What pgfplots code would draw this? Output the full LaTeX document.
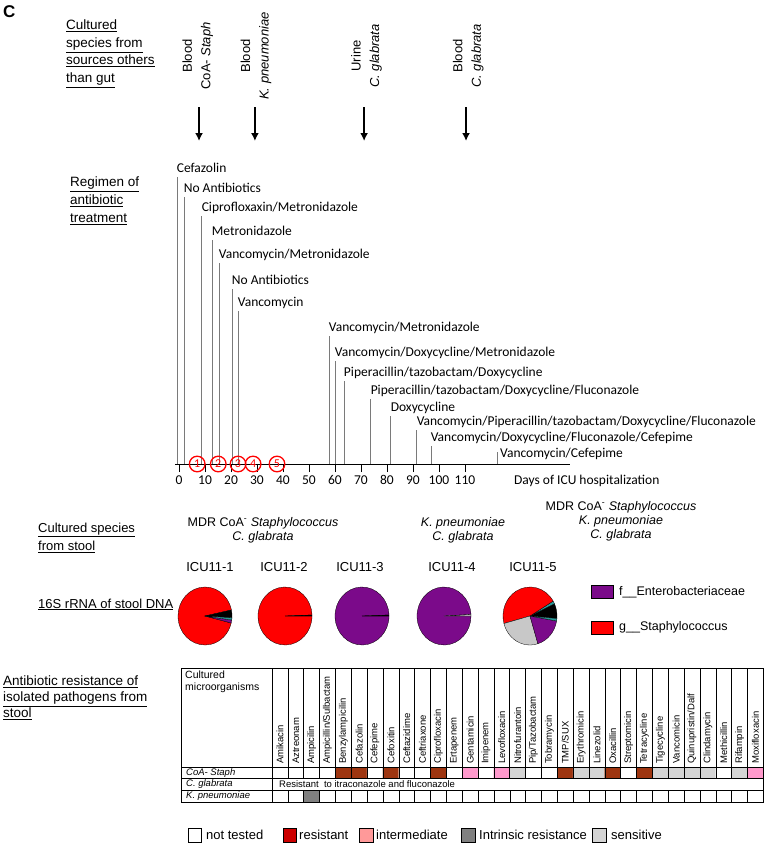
\documentclass[border=0pt]{standalone}
\usepackage{pgfplots}
\pgfplotsset{compat=1.18}
\usepackage{pgfplotstable}
\usepackage{fontspec}
\setmainfont{Liberation Sans}
\newfontfamily\calibri{Carlito}
\usetikzlibrary{arrows.meta}
\definecolor{resbrown}{HTML}{9E3510}
\definecolor{respink}{HTML}{FF99CC}
\definecolor{intgray}{HTML}{808080}
\definecolor{sensgray}{HTML}{D4D4D4}
\definecolor{legred}{HTML}{CC0000}
\definecolor{legpink}{HTML}{FF9999}
\definecolor{piepurple}{HTML}{7B0A8A}
\definecolor{pieteal}{HTML}{2A9A9A}
\definecolor{piegray}{HTML}{C8C8C8}
\definecolor{regline}{HTML}{7A7A7A}
\newcommand\fs[2]{\fontsize{#1}{#2}\selectfont}
\newcommand{\piesec}[3]{\fill[#3,draw=black,line width=0.3pt] (0pt,0pt) -- (#1:27pt and 29pt) arc[start angle=#1, end angle=#2, x radius=27pt, y radius=29pt] -- cycle;}

\pgfplotstableread{
day top label
-0.8 287 Cefazolin
1.9 267 {No Antibiotics}
8.8 248 Ciprofloxaxin/Metronidazole
12.7 224 Metronidazole
15.4 201 Vancomycin/Metronidazole
20.4 175 {No Antibiotics}
22.7 153 Vancomycin
57.7 128 Vancomycin/Metronidazole
60.0 103 Vancomycin/Doxycycline/Metronidazole
63.5 83 Piperacillin/tazobactam/Doxycycline
73.8 65 Piperacillin/tazobactam/Doxycycline/Fluconazole
81.5 48 Doxycycline
91.5 34 Vancomycin/Piperacillin/tazobactam/Doxycycline/Fluconazole
96.9 18 Vancomycin/Doxycycline/Fluconazole/Cefepime
}\regimen

\begin{document}
\begin{tikzpicture}
\begin{scope}[x=1pt,y=-1pt]
\path[use as bounding box] (0,0) rectangle (770,848);
% panel letter
\node[anchor=north west, inner sep=0pt, font=\bfseries\fs{17}{17}] at (3,5) {C};
% left labels (base = baseline of last line)
\node[anchor=base west, inner sep=0pt, align=left, font=\fs{13.5}{17.5}] at (66,82.5)
  {\underline{Cultured}\\\underline{species from}\\\underline{sources others}\\\underline{than gut}};
\node[anchor=base west, inner sep=0pt, align=left, font=\fs{13.5}{18}] at (70,222.5)
  {\underline{Regimen of}\\\underline{antibiotic}\\\underline{treatment}};
\node[anchor=base west, inner sep=0pt, align=left, font=\fs{13}{18}] at (38,550.5)
  {\underline{Cultured species}\\\underline{from stool}};
\node[anchor=base west, inner sep=0pt, align=left, font=\fs{13}{18}] at (38,608)
  {\underline{16S rRNA of stool DNA}};
\node[anchor=base west, inner sep=0pt, align=left, font=\fs{13.5}{16}] at (3,717.5)
  {\underline{Antibiotic resistance of}\\\underline{isolated pathogens from}\\\underline{stool}};
% cultured species from stool
\node[align=center, inner sep=0pt, font=\fs{12.5}{14}] at (263,530) {MDR CoA\textsuperscript{-} \textit{Staphylococcus}\\\textit{C. glabrata}};
\node[align=center, inner sep=0pt, font=\fs{12.5}{14}] at (463,530) {\textit{K. pneumoniae}\\\textit{C. glabrata}};
\node[align=center, inner sep=0pt, font=\fs{12.5}{14}] at (621,521) {MDR CoA\textsuperscript{-} \textit{Staphylococcus}\\\textit{K. pneumoniae}\\\textit{C. glabrata}};
% sample names
\foreach \x/\t in {210/ICU11-1,284/ICU11-2,360/ICU11-3,452/ICU11-4,533/ICU11-5}
  \node[font=\fs{13}{14}, inner sep=0pt] at (\x,567) {\t};
% pie legend
\draw[fill=piepurple, line width=0.4pt] (591,585.5) rectangle (613,598.5);
\node[anchor=west, inner sep=0pt, font=\fs{12.5}{14}] at (619,592) {f\_\_Enterobacteriaceae};
\draw[fill=red, line width=0.4pt] (591,621) rectangle (613,634);
\node[anchor=west, inner sep=0pt, font=\fs{12.5}{14}] at (619,627.5) {g\_\_Staphylococcus};
\end{scope}
% pies (angles counter-clockwise from east)
\begin{scope}[shift={(205pt,-616pt)}]
 \piesec{12}{346}{red}\piesec{-14}{-8}{piepurple}\piesec{-8}{-3}{pieteal}\piesec{-3}{12}{black}
\end{scope}
\begin{scope}[shift={(285pt,-616pt)}]
 \piesec{2}{360}{red}\piesec{0}{2}{black}
\end{scope}
\begin{scope}[shift={(362pt,-616pt)}]
 \piesec{2}{360}{piepurple}\piesec{0}{2}{black}
\end{scope}
\begin{scope}[shift={(444pt,-616pt)}]
 \piesec{3}{360}{piepurple}\piesec{0}{3}{piegray}
\end{scope}
\begin{scope}[shift={(530pt,-616pt)}]
 \piesec{-5}{25}{black}\piesec{25}{31}{pieteal}\piesec{31}{195}{red}\piesec{195}{287}{piegray}\piesec{287}{350}{piepurple}\piesec{350}{355}{pieteal}
\end{scope}

% ---------------- timeline -----------------
\begin{axis}[
  scale only axis, width=394.9pt, height=300pt,
  at={(175.1pt,-464pt)}, anchor=south west,
  xmin=-1.5, xmax=150.4, ymin=0, ymax=300,
  axis x line=bottom, axis y line=none,
  axis line style={-, black, line width=0.7pt},
  xtick={0,10,...,110}, tick align=outside, major tick length=8pt,
  xtick style={black, line width=0.7pt},
  xticklabel style={font=\calibri\fs{13.5}{15}, text=black},
  /pgf/number format/assume math mode=true,
  clip=false,
]
\addplot[ycomb, regline, line width=0.8pt, no marks,
  nodes near coords, point meta=explicit symbolic,
  every node near coord/.append style={anchor=south west, inner xsep=0pt, inner ysep=1.2pt, xshift=-0.5pt,
    text=black, text height=9.5pt, text depth=3pt, font=\calibri\fs{13.5}{15}}]
  table[x=day, y=top, meta=label]{\regimen};
\addplot[ycomb, regline, line width=0.8pt, no marks] coordinates {(122.3,12)};
\node[anchor=west, inner sep=0pt, font=\calibri\fs{13.5}{15}] at (axis cs:122.3,10) [xshift=3pt] {Vancomycin/Cefepime};
\addplot[only marks, mark=o, mark size=7.8pt, red, line width=1.3pt,
  nodes near coords, point meta=explicit symbolic,
  every node near coord/.append style={anchor=center, text=red, inner sep=0pt, font=\calibri\fs{12}{12}}]
  table[meta=n]{
  x y n
  7.0 0 1
  15.1 0 2
  22.7 0 3
  28.5 0 4
  37.7 0 5
  };
\addplot[black, line width=1.8pt, -{Latex[length=8pt,width=8pt]}, quiver={u=0, v=-34}]
  coordinates {(7.7,357) (29.2,357) (71.2,357) (110.4,357)};
\node[rotate=90, align=center, font=\fs{13}{18.5}] at (axis cs:7.2,408) {Blood\\CoA- \textit{Staph}};
\node[rotate=90, align=center, font=\fs{13}{18.5}] at (axis cs:29.6,408) {Blood\\\textit{K. pneumoniae}};
\node[rotate=90, align=center, font=\fs{13}{18.5}] at (axis cs:72.1,408) {Urine\\\textit{C. glabrata}};
\node[rotate=90, align=center, font=\fs{13}{18.5}] at (axis cs:111.3,408) {Blood\\\textit{C. glabrata}};
\node[anchor=base west, inner sep=0pt, font=\calibri\fs{13.5}{15}] at (axis cs:128.8,-20) {Days of ICU hospitalization};
\end{axis}

% ---------------- resistance table -----------------
\begin{axis}[
  scale only axis, width=491.35pt, height=35pt,
  at={(272pt,-802pt)}, anchor=south west,
  xmin=0.5, xmax=31.5, ymin=0.5, ymax=3.5,
  enlargelimits=false,
  axis line style={draw=none}, tick style={draw=none},
  xtick={1,...,31},
  xticklabels={Amikacin,Aztreonam,Ampicilin,Ampicillin/Sulbactam,Benzylampicilin,Cefazolin,Cefepime,Cefoxitin,Ceftazidime,Ceftriaxone,Ciprofloxacin,Ertapenem,Gentamicin,Imipenem,Levofloxacin,Nitrofurantoin,Pip/Tazobactam,Tobramycin,TMP/SUX,Erythromicin,Linezolid,Oxacillin,Streptomicin,Tetracycline,Tigecycline,Vancomicin,Quinupristin/Dalf,Clindamycin,Methicillin,Rifampin,Moxifloxacin},
  xtick pos=upper, xticklabel pos=upper,
  xticklabel style={rotate=90, anchor=west, inner xsep=3pt, inner ysep=0pt, font=\fs{9.5}{10}},
  ytick=\empty,
  colormap={resmap}{color(0)=(white) color(1)=(resbrown) color(2)=(respink) color(3)=(intgray) color(4)=(sensgray)},
  point meta min=0, point meta max=4,
]
\addplot[matrix plot*, mesh/cols=31, point meta=explicit] coordinates {
 (1,1)[0] (2,1)[0] (3,1)[3] (4,1)[0] (5,1)[0] (6,1)[0] (7,1)[0] (8,1)[0] (9,1)[0] (10,1)[0]
 (11,1)[0] (12,1)[0] (13,1)[0] (14,1)[0] (15,1)[0] (16,1)[0] (17,1)[0] (18,1)[0] (19,1)[0] (20,1)[0]
 (21,1)[0] (22,1)[0] (23,1)[0] (24,1)[0] (25,1)[0] (26,1)[0] (27,1)[0] (28,1)[0] (29,1)[0] (30,1)[0] (31,1)[0]

 (1,2)[0] (2,2)[0] (3,2)[0] (4,2)[0] (5,2)[0] (6,2)[0] (7,2)[0] (8,2)[0] (9,2)[0] (10,2)[0]
 (11,2)[0] (12,2)[0] (13,2)[0] (14,2)[0] (15,2)[0] (16,2)[0] (17,2)[0] (18,2)[0] (19,2)[0] (20,2)[0]
 (21,2)[0] (22,2)[0] (23,2)[0] (24,2)[0] (25,2)[0] (26,2)[0] (27,2)[0] (28,2)[0] (29,2)[0] (30,2)[0] (31,2)[0]

 (1,3)[0] (2,3)[0] (3,3)[0] (4,3)[0] (5,3)[1] (6,3)[1] (7,3)[0] (8,3)[1] (9,3)[0] (10,3)[0]
 (11,3)[1] (12,3)[0] (13,3)[2] (14,3)[0] (15,3)[2] (16,3)[4] (17,3)[0] (18,3)[0] (19,3)[1] (20,3)[4]
 (21,3)[4] (22,3)[1] (23,3)[0] (24,3)[1] (25,3)[4] (26,3)[4] (27,3)[4] (28,3)[4] (29,3)[0] (30,3)[4] (31,3)[2]
};
\end{axis}

\begin{scope}[x=1pt,y=-1pt]
% table grid
\draw[line width=0.7pt] (181,668) rectangle (763.35,802);
\draw[line width=0.6pt] (272,668) -- (272,802);
\draw[line width=0.6pt] (181,767) -- (763.35,767);
\draw[line width=0.5pt] (181,778.7) -- (763.35,778.7);
\draw[line width=0.5pt] (181,790.3) -- (763.35,790.3);
\foreach \i in {1,...,30} {
  \draw[line width=0.6pt] (272+15.85*\i,668) -- (272+15.85*\i,778.7);
  \draw[line width=0.5pt] (272+15.85*\i,790.3) -- (272+15.85*\i,802);
}
\node[anchor=north west, align=left, inner sep=0pt, font=\fs{10.5}{11.5}] at (185,671) {Cultured\\microorganisms};
\node[anchor=west, inner sep=0pt, font=\itshape\fs{9.5}{10}] at (186,772.9) {CoA- Staph};
\node[anchor=west, inner sep=0pt, font=\itshape\fs{9.5}{10}] at (186,784.5) {C. glabrata};
\node[anchor=west, inner sep=0pt, font=\itshape\fs{9.5}{10}] at (186,796.2) {K. pneumoniae};
\node[anchor=west, inner sep=0pt, font=\fs{9.5}{10}] at (279,784.5) {Resistant\ \ to itraconazole and fluconazole};
% bottom legend
\draw[fill=white, line width=0.5pt] (188,828) rectangle (201,842);
\node[anchor=west, inner sep=0pt, font=\fs{13}{14}] at (206,835) {not tested};
\draw[fill=legred, line width=0.5pt] (283,828) rectangle (296,842);
\node[anchor=west, inner sep=0pt, font=\fs{13}{14}] at (299,835) {resistant};
\draw[fill=legpink, line width=0.5pt] (359,828) rectangle (373,842);
\node[anchor=west, inner sep=0pt, font=\fs{13}{14}] at (376,835) {intermediate};
\draw[fill=intgray, line width=0.5pt] (461,828) rectangle (475,842);
\node[anchor=west, inner sep=0pt, font=\fs{13}{14}] at (479,835) {Intrinsic resistance};
\draw[fill=sensgray, line width=0.5pt] (592,828) rectangle (606,842);
\node[anchor=west, inner sep=0pt, font=\fs{13}{14}] at (611,835) {sensitive};
\end{scope}
\end{tikzpicture}
\end{document}
